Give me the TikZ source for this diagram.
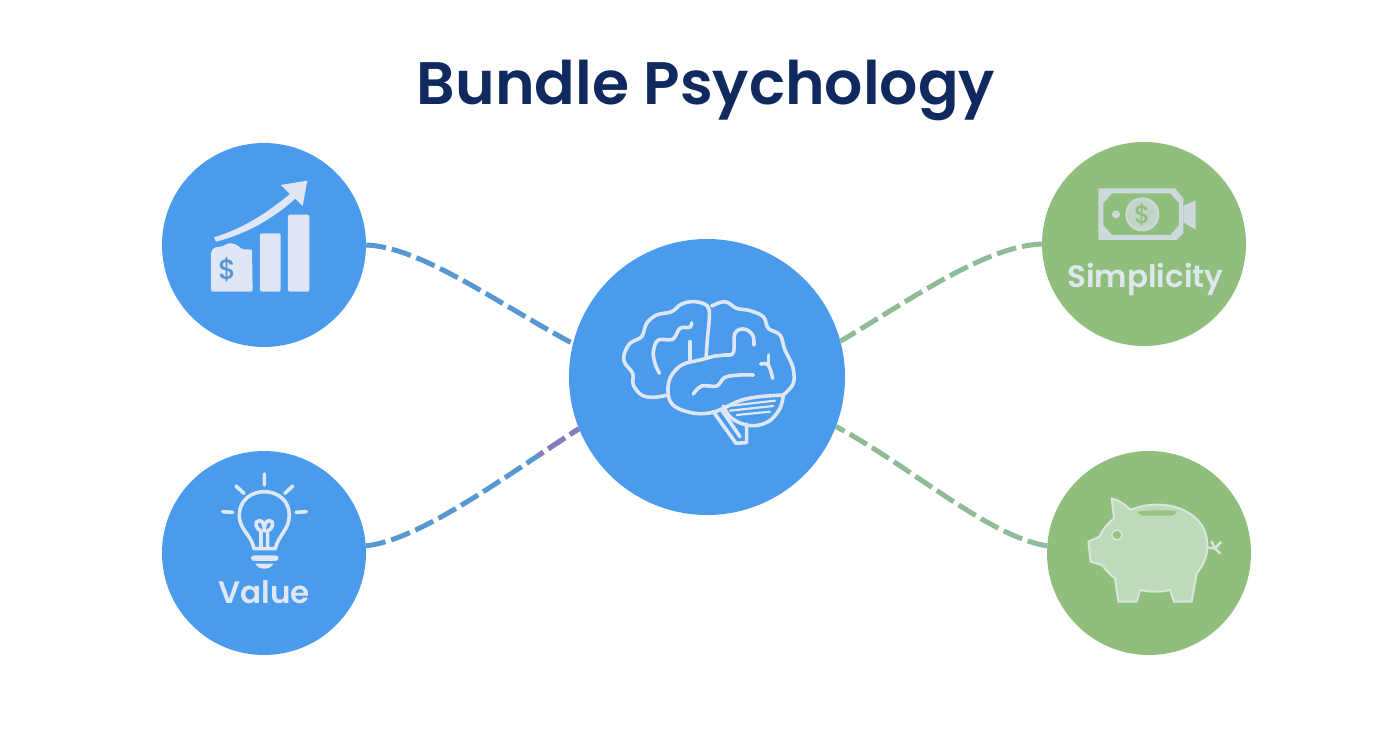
\documentclass[tikz,border=0pt]{standalone}
\usepackage{fontspec}
\setmainfont{Poppins}
\newfontfamily\titlefont{Poppins SemiBold}
\newfontfamily\labelfont{Poppins Medium}
\usetikzlibrary{calc}
\definecolor{navy}{HTML}{10295F}
\definecolor{cblue}{HTML}{4A9BEC}
\definecolor{cgreen}{HTML}{8FBE7D}
\definecolor{lblue}{HTML}{5898D2}
\definecolor{lpurple}{HTML}{8E78BA}
\definecolor{lgreen}{HTML}{8EBC98}
\definecolor{iconb}{HTML}{DFE7F5}
\definecolor{icong}{HTML}{CDD9DA}
\definecolor{pigfill}{HTML}{BFDAB9}
\definecolor{pigline}{HTML}{D8E6DE}
\tikzset{
  hub/.style={circle,fill=cblue,inner sep=0pt,minimum size=276pt},
  bluecirc/.style={circle,fill=cblue,inner sep=0pt,minimum size=204pt},
  greencirc/.style={circle,fill=cgreen,inner sep=0pt,minimum size=204pt},
  conn/.style={line width=5pt,dash pattern=on 20pt off 6pt},
  iconline/.style={draw=iconb,line width=3.6pt,line cap=round,line join=round},
  thinline/.style={draw=iconb,line width=2.2pt,line cap=round,line join=round},
  label/.style={inner sep=0pt,font=\fontsize{31}{31}\selectfont\titlefont},
}
\begin{document}
\begin{tikzpicture}[x=1pt,y=-1pt]
\useasboundingbox (0,0) rectangle (1392,752);
\fill[white] (0,0) rectangle (1392,752);
\node[inner sep=0pt,text=navy,font=\fontsize{60}{60}\selectfont\titlefont] (title) at (706,90) {Bundle Psychology};
\node[hub] (hubc) at (707,377) {};
\node[bluecirc] (tl) at (264,245) {};
\node[bluecirc] (bl) at (264,553) {};
\node[greencirc] (tr) at (1144,244) {};
\node[greencirc] (br) at (1149,553) {};
% connectors
\draw[conn,lblue] (tl.east) .. controls +(55,2) and +(-75,-40) .. (hubc.166);
\draw[conn,lblue] (bl.4) .. controls +(55,-6) and +(-70,45) .. (hubc.202.6);
\begin{scope}
\clip (539,400) rectangle (600,470);
\draw[conn,lpurple] (bl.4) .. controls +(55,-6) and +(-70,45) .. (hubc.202.6);
\end{scope}
\draw[conn,lgreen] (tr.west) .. controls +(-55,2) and +(75,-45) .. (hubc.15.5);
\draw[conn,lgreen] (br.176) .. controls +(-60,-10) and +(75,40) .. (hubc.-21);
% chart icon
\begin{scope}[shift={(150,130)},scale=0.3333]
\fill[iconb,rounded corners=2pt] (330,310) rectangle (392,485);
\fill[iconb,rounded corners=2pt] (414,254) rectangle (478,485);
\fill[iconb,rounded corners=2pt] (183,365) -- (192,352) -- (215,350) -- (240,338) -- (262,345) -- (275,358) -- (306,358) -- (308,485) -- (183,485) -- cycle;
\fill[iconb] (192,322) .. controls (280,295) and (350,250) .. (420,192) -- (392,165) -- (472,152) -- (458,228) -- (436,206) .. controls (370,265) and (290,312) .. (198,335) -- cycle;
\node[inner sep=0pt,text=lblue,font=\fontsize{28}{28}\selectfont\labelfont] (dollara) at (232,418) {\$};
\end{scope}
% brain icon
\begin{scope}[shift={(600,280)},scale=0.3333]
\draw[iconline] plot[smooth,tension=.6] coordinates {(205,345) (160,352) (125,345) (100,315) (98,280) (75,250) (72,225) (90,190) (125,170) (140,130) (170,105) (215,95) (245,72) (285,65) (322,78) (328,110) (322,180) (318,235)};
\draw[iconline] plot[smooth,tension=.6] coordinates {(335,78) (375,65) (410,85) (450,92) (490,110) (505,145) (540,165) (555,210) (578,260) (580,310) (550,345)};
\draw[iconline] plot[smooth,tension=.6] coordinates {(345,228) (300,240) (245,255) (210,295) (205,345) (225,380) (285,400) (345,395) (420,362) (480,350) (550,345)};
\draw[iconline] plot[smooth,tension=.6] coordinates {(370,378) (395,415) (450,437) (505,425) (540,385) (550,345)};
\draw[thinline] (395,377) -- (525,362) (390,392) -- (520,378) (410,405) -- (510,395);
\draw[iconline] (340,395) -- (408,490) -- (440,488) -- (440,432);
\draw[iconline] (365,390) -- (420,470);
\draw[iconline] plot[smooth,tension=.6] coordinates {(275,128) (270,142) (240,145) (218,178) (175,180) (160,215) (165,250) (178,280)};
\draw[iconline] (270,185) -- (270,240);
\draw[iconline] plot[smooth,tension=.6] coordinates {(345,228) (375,225) (400,218) (405,160) (432,147) (458,165) (462,195)};
\draw[iconline] plot[smooth,tension=.6] coordinates {(482,252) (505,255) (518,295)};
\draw[iconline] (505,225) -- (505,255);
\draw[iconline] plot[smooth,tension=.6] coordinates {(280,342) (305,318) (350,318) (375,292) (420,285) (460,285)};
\end{scope}
% bulb icon
\begin{scope}[shift={(150,450)},scale=0.3333]
\draw[iconline] (312,296) .. controls (305,255) and (268,240) .. (268,195) .. controls (268,150) and (305,125) .. (343,125) .. controls (381,125) and (418,150) .. (418,195) .. controls (418,240) and (385,255) .. (376,296) -- cycle;
\draw[iconline] (333,294) -- (333,243) .. controls (318,238) and (310,212) .. (328,212) .. controls (340,212) and (343,225) .. (343,243) .. controls (343,225) and (346,212) .. (358,212) .. controls (376,212) and (368,238) .. (353,243) -- (353,294);
\fill[iconb,rounded corners=3pt] (303,316) rectangle (386,333);
\fill[iconb] (316,341) -- (370,341) .. controls (365,352) and (355,356) .. (343,356) .. controls (331,356) and (321,352) .. (316,341) -- cycle;
\draw[iconline] (343,72) -- (343,105) (258,108) -- (282,130) (428,108) -- (405,130) (218,185) -- (248,187) (438,187) -- (469,185);
\node[inner sep=0pt,text=iconb,label] (value) at (343,428) {Value};
\end{scope}
% money icon
\begin{scope}[shift={(1035,135)},scale=0.3333]
\fill[icong] (190,160) -- (420,160) -- (445,190) -- (445,295) -- (425,315) -- (190,315) -- cycle;
\fill[cgreen] (205,205) -- (232,175) -- (405,175) -- (432,205) -- (432,270) -- (405,300) -- (232,300) -- (205,270) -- cycle;
\fill[icong] (445,212) -- (482,197) -- (482,284) -- (445,262) -- cycle;
\draw[icong,fill=icong!80!cgreen,line width=2pt] (322,238) circle[radius=48];
\fill[icong] (243,238) circle[radius=12];
\node[inner sep=0pt,text=cgreen,font=\fontsize{25}{25}\selectfont\labelfont] (dollarb) at (322,238) {\$};
\node[inner sep=0pt,text=iconb!70!pigline,label] (simp) at (331,432) {Simplicity};
\end{scope}
% piggy icon
\begin{scope}[shift={(1040,445)},scale=0.3333]
\draw[draw=pigline,fill=pigfill,line width=2pt,line join=round] (215,160) .. controls (235,165) and (255,178) .. (272,195) .. controls (340,165) and (440,175) .. (485,240) .. controls (510,280) and (510,340) .. (470,385) -- (455,470) -- (402,470) -- (390,435) .. controls (360,442) and (330,442) .. (300,435) -- (290,470) -- (235,470) -- (225,400) .. controls (205,385) and (195,370) .. (185,360) -- (152,350) -- (145,290) -- (178,275) .. controls (190,250) and (205,235) .. (222,220) -- cycle;
\fill[cgreen!85!pigfill] (293,200) .. controls (330,195) and (380,195) .. (410,198) .. controls (405,208) and (400,212) .. (395,212) -- (310,212) .. controls (302,210) and (296,207) .. (293,200) -- cycle;
\draw[draw=pigline,fill=cgreen!85!pigfill,line width=1.5pt] (231,270) circle[radius=15];
\draw[pigline,line width=2.5pt,line cap=round] (503,308) -- (525,310) (525,310) -- (515,290) (525,310) -- (542,292) (525,310) -- (540,325);
\end{scope}
\end{tikzpicture}
\end{document}
